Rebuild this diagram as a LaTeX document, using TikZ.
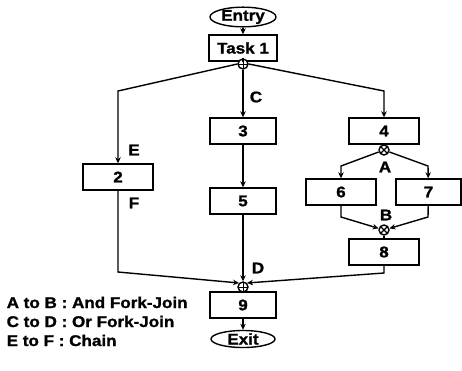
\documentclass[tikz,border=0pt]{standalone}
\usepackage{fontspec}
\setmainfont{Liberation Sans}[FakeStretch=1.1,BoldFeatures={FakeBold=1.2}]
\usetikzlibrary{arrows.meta,shapes.geometric}
\begin{document}
\begin{tikzpicture}[x=1pt,y=-1pt,line width=1.4pt,
  txt/.style={font=\bfseries\fontsize{15.5}{15.5}\selectfont},
  box/.style={txt,draw,rectangle,minimum width=68pt,minimum height=26pt,inner sep=0pt},
  term/.style={txt,draw,ellipse,minimum width=66pt,minimum height=17pt,inner sep=0pt},
  jn/.style={draw,circle,minimum size=10pt,inner sep=0pt,fill=white},
  orj/.style={jn,path picture={\draw[line width=1pt]
      (path picture bounding box.north) -- (path picture bounding box.south)
      (path picture bounding box.west) -- (path picture bounding box.east);}},
  andj/.style={jn,path picture={\draw[line width=1.2pt]
      (path picture bounding box.north west) -- (path picture bounding box.south east)
      (path picture bounding box.north east) -- (path picture bounding box.south west);}},
  lbl/.style={txt,inner sep=0pt},
  arr/.style={-{Stealth[length=6pt,width=5.5pt]}}]
\useasboundingbox (0,0) rectangle (462,370);
% nodes
\node[term] (entry) at (243,17) {Entry};
\node[box] (t1) at (243,48) {Task 1};
\node[orj] (c) at (243,64) {};
\node[box,minimum width=70pt] (n2) at (118,177) {2};
\node[box,minimum width=66pt] (n3) at (243,131) {3};
\node[box,minimum width=66pt] (n5) at (243,201) {5};
\node[box,minimum width=70pt] (n4) at (384,131) {4};
\node[andj] (a) at (384,150) {};
\node[box,minimum width=70pt] (n6) at (341,192) {6};
\node[box,minimum width=65pt] (n7) at (428.5,192) {7};
\node[andj] (b) at (384,230) {};
\node[box,minimum width=70pt] (n8) at (384,252) {8};
\node[orj] (d) at (243,287) {};
\node[box,minimum width=66pt] (n9) at (243,305) {9};
\node[term,minimum width=64pt] (exit) at (243,339) {Exit};
% labels
\node[lbl] (lc) at (256,97) {C};
\node[lbl] (le) at (134,150) {E};
\node[lbl] (lf) at (134,203) {F};
\node[lbl] (la) at (385,167) {A};
\node[lbl] (lb) at (386,215) {B};
\node[lbl] (ld) at (258,268) {D};
\node[lbl,anchor=base west] (k1) at (6,308) {A to B : And Fork-Join};
\node[lbl,anchor=base west] (k2) at (6,327) {C to D : Or Fork-Join};
\node[lbl,anchor=base west] (k3) at (6,346) {E to F : Chain};
% coordinates
\coordinate (cl) at (118,91);
\coordinate (cr) at (384,91);
\coordinate (al) at (341,166);
\coordinate (ar) at (428,166);
\coordinate (bl) at (341,217);
\coordinate (br) at (428,217);
\coordinate (dl) at (118,272);
\coordinate (dr) at (384,273);
% connectors
\draw[arr] (entry) -- (t1);
\draw (t1) -- (c);
\draw[arr] (c.west) -- (cl) -- (n2);
\draw[arr] (c) -- (n3);
\draw[arr] (c.east) -- (cr) -- (n4);
\draw[arr] (n3) -- (n5);
\draw (n4) -- (a);
\draw[arr] (a) -- (al) -- (n6);
\draw[arr] (a) -- (ar) -- (n7);
\draw[arr] (n6) -- (bl) -- (b);
\draw[arr] (n7) -- (br) -- (b);
\draw (b) -- (n8);
\draw[arr] (n8) -- (dr) -- (d.north east);
\draw[arr] (n2) -- (dl) -- (d.north west);
\draw[arr] (n5) -- (d);
\draw (d) -- (n9);
\draw[arr] (n9) -- (exit);
\end{tikzpicture}
\end{document}
